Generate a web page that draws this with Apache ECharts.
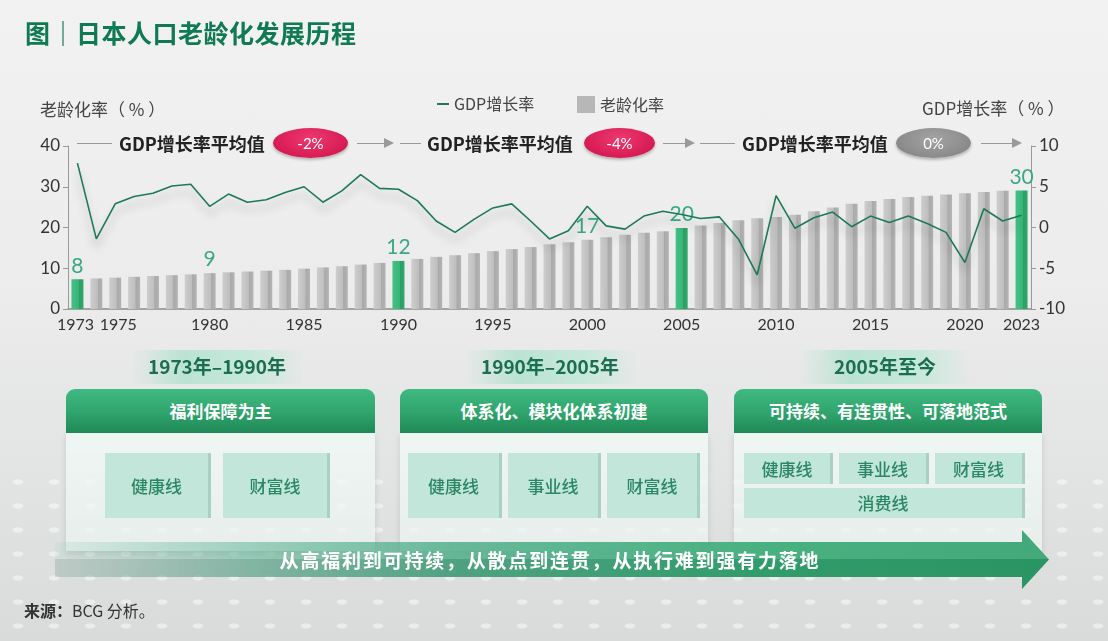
<!DOCTYPE html>
<html><head><meta charset="utf-8">
<script src="https://cdn.jsdelivr.net/npm/echarts@6/dist/echarts.min.js"></script>
<style>
html,body{margin:0;padding:0;width:1108px;height:641px;overflow:hidden;}
body{position:relative;font-family:'Noto Sans CJK SC','Noto Sans',sans-serif;background:linear-gradient(180deg,#f2f2f2 0%,#ececec 45%,#e2e3e3 75%,#d9dada 100%);}
#dots{position:absolute;left:0;top:470px;width:1108px;height:171px;background-image:radial-gradient(ellipse 8px 4px at center, rgba(255,255,255,0.85) 55%, rgba(255,255,255,0) 75%);background-size:36px 24px;opacity:0.55;}
#chart{position:absolute;left:0;top:0;width:1108px;height:641px;}
.abs{position:absolute;white-space:nowrap;}
#title{left:25px;top:16px;font-size:25px;font-weight:700;color:#0f7a53;line-height:32px;letter-spacing:0.5px;}
.axname{font-size:17px;color:#444;line-height:22px;}
.hline{position:absolute;height:1px;background:#9a9a9a;top:143px;}
.arr{position:absolute;height:1px;background:#9a9a9a;top:143px;}
.arr:after{content:'';position:absolute;right:-2px;top:-5px;border-left:10px solid #9a9a9a;border-top:5.5px solid transparent;border-bottom:5.5px solid transparent;}
.anntext{position:absolute;top:128px;line-height:30px;font-size:18px;font-weight:700;color:#222;}
.pill{position:absolute;top:128px;height:30px;border-radius:50%;color:#fff;font-size:15px;line-height:30px;text-align:center;font-family:Lato,'Noto Sans',sans-serif;box-shadow:0 2px 3px rgba(0,0,0,0.25);}
.red{background:radial-gradient(ellipse at 50% 35%,#ec3a6f 0%,#db1f58 60%,#c4164b 100%);}
.gray{background:radial-gradient(ellipse at 50% 35%,#a3a3a3 0%,#8e8e8e 60%,#7c7c7c 100%);}
.band{position:absolute;top:350px;height:34px;background:linear-gradient(90deg,rgba(175,225,205,0) 0%,rgba(175,225,205,0.8) 30%,rgba(190,232,215,0.8) 70%,rgba(175,225,205,0) 100%);}
.period{position:absolute;top:350px;line-height:32px;font-size:19px;font-weight:700;color:#1b6f50;text-align:center;width:240px;}
.box{position:absolute;top:389px;}
.bhead{position:absolute;left:0;top:0;height:44px;width:100%;border-radius:9px 9px 0 0;background:linear-gradient(180deg,#3fba82 0%,#2fa46c 55%,#1f8857 100%);color:#fff;font-size:17px;font-weight:700;line-height:44px;text-align:center;}
.bbody{position:absolute;left:0;top:44px;height:118px;width:100%;background:linear-gradient(180deg,rgba(240,248,245,0.85),rgba(236,244,241,0.7));box-shadow:0 3px 6px rgba(0,0,0,0.12);}
.cell{position:absolute;background:#c3e6da;box-shadow:3px 0 0 #a9d1c3;color:#2a8766;font-size:17px;font-weight:500;text-align:center;}
#arrow{position:absolute;left:55px;top:530px;width:994px;height:59px;clip-path:polygon(0 12px,967px 12px,967px 0,994px 29.5px,967px 59px,967px 47px,0 47px);background:linear-gradient(180deg,rgba(255,255,255,0.10) 0%,rgba(255,255,255,0.10) 50%,rgba(0,0,0,0.07) 50%,rgba(0,0,0,0.07) 100%),linear-gradient(90deg,rgba(70,170,135,0.10) 0%,rgba(70,170,135,0.5) 18%,rgba(60,165,125,0.85) 40%,#35a873 70%,#2e9f6b 100%);}
#arrowtext{position:absolute;left:0;width:1100px;top:545px;line-height:30px;text-align:center;color:#fff;font-size:19px;font-weight:700;letter-spacing:1.8px;}
#source{left:24px;top:598px;font-size:16px;color:#333;line-height:24px;}
</style></head>
<body>
<div id="dots"></div>
<div id="chart"></div>
<div class="abs" id="title">图｜日本人口老龄化发展历程</div>
<div class="abs axname" style="left:40px;top:98px;">老龄化率（ % ）</div>
<div class="abs axname" style="left:922px;top:97px;">GDP增长率（ % ）</div>

<div class="hline" style="left:77px;width:35px;"></div>
<div class="anntext" style="left:119px;">GDP增长率平均值</div>
<div class="pill red" style="left:273px;width:75px;">-2%</div>
<div class="arr" style="left:357px;width:35px;"></div>
<div class="hline" style="left:400px;width:21px;"></div>
<div class="anntext" style="left:427px;">GDP增长率平均值</div>
<div class="pill red" style="left:584px;width:71px;">-4%</div>
<div class="arr" style="left:663px;width:30px;"></div>
<div class="hline" style="left:700px;width:35px;"></div>
<div class="anntext" style="left:742px;">GDP增长率平均值</div>
<div class="pill gray" style="left:896px;width:75px;">0%</div>
<div class="arr" style="left:981px;width:39px;"></div>

<div class="band" style="left:133px;width:170px;"></div>
<div class="period" style="left:97px;">1973年–1990年</div>
<div class="band" style="left:466px;width:170px;"></div>
<div class="period" style="left:430px;">1990年–2005年</div>
<div class="band" style="left:800px;width:170px;"></div>
<div class="period" style="left:765px;">2005年至今</div>

<div class="box" style="left:66px;width:309px;">
  <div class="bbody"></div>
  <div class="bhead">福利保障为主</div>
</div>
<div class="box" style="left:400px;width:308px;">
  <div class="bbody"></div>
  <div class="bhead">体系化、模块化体系初建</div>
</div>
<div class="box" style="left:734px;width:308px;">
  <div class="bbody"></div>
  <div class="bhead">可持续、有连贯性、可落地范式</div>
</div>

<div class="cell" style="left:105px;top:453px;width:103px;height:65px;line-height:65px;">健康线</div>
<div class="cell" style="left:223px;top:453px;width:104px;height:65px;line-height:65px;">财富线</div>
<div class="cell" style="left:408px;top:453px;width:91px;height:65px;line-height:65px;">健康线</div>
<div class="cell" style="left:508px;top:453px;width:90px;height:65px;line-height:65px;">事业线</div>
<div class="cell" style="left:607px;top:453px;width:90px;height:65px;line-height:65px;">财富线</div>
<div class="cell" style="left:744px;top:453px;width:86px;height:31px;line-height:31px;">健康线</div>
<div class="cell" style="left:839px;top:453px;width:87px;height:31px;line-height:31px;">事业线</div>
<div class="cell" style="left:935px;top:453px;width:87px;height:31px;line-height:31px;">财富线</div>
<div class="cell" style="left:744px;top:488px;width:278px;height:30px;line-height:30px;">消费线</div>

<div id="arrow"></div>
<div id="arrowtext">从高福利到可持续，从散点到连贯，从执行难到强有力落地</div>
<div class="abs" id="source"><b>来源：</b>BCG 分析。</div>

<script>
const years = ['1973','1974','1975','1976','1977','1978','1979','1980','1981','1982','1983','1984','1985','1986','1987','1988','1989','1990','1991','1992','1993','1994','1995','1996','1997','1998','1999','2000','2001','2002','2003','2004','2005','2006','2007','2008','2009','2010','2011','2012','2013','2014','2015','2016','2017','2018','2019','2020','2021','2022','2023'];
const agingRate = [7.3,7.5,7.7,7.9,8.1,8.3,8.5,8.8,9.0,9.2,9.4,9.6,9.9,10.2,10.5,10.9,11.3,11.8,12.3,12.8,13.2,13.7,14.2,14.7,15.2,15.9,16.4,17.0,17.6,18.2,18.7,19.1,19.9,20.5,21.1,21.8,22.3,22.6,23.1,24.0,24.9,25.8,26.5,27.0,27.5,27.8,28.1,28.4,28.7,29.0,29.1];
const gdpGrowth = [7.9,-1.4,2.9,3.8,4.2,5.1,5.3,2.6,4.1,3.1,3.4,4.3,5.0,3.1,4.5,6.5,4.8,4.7,3.3,0.8,-0.6,1.0,2.4,2.9,0.8,-1.4,-0.4,2.6,0.2,-0.2,1.4,2.0,1.6,1.1,1.3,-1.4,-5.8,3.9,-0.1,1.2,1.9,0.1,1.4,0.6,1.4,0.5,-0.6,-4.3,2.3,0.8,1.5];
const highlightYears = ['1973','1990','2005','2023'];
const labeledYears = ['1973','1980','1990','2000','2005','2023'];
const labelTexts = ['8','9','12','17','20','30'];
const xLabelYears = ['1973','1975','1980','1985','1990','1995','2000','2005','2010','2015','2020','2023'];
const leftAxis = {min:0, max:40, interval:10};
const rightAxis = {min:-10, max:10, interval:5};

const grayGrad = new echarts.graphic.LinearGradient(0,0,1,0,[
  {offset:0,color:'#cdcdcd'},{offset:0.6,color:'#bebebe'},{offset:0.64,color:'#a9a9a9'},{offset:1,color:'#b3b3b3'}]);
const greenGrad = new echarts.graphic.LinearGradient(0,0,1,0,[
  {offset:0,color:'#44c285'},{offset:0.6,color:'#38b477'},{offset:0.64,color:'#2b9e64'},{offset:1,color:'#31a86c'}]);

const barData = years.map((y,i)=>{
  const item = {value: agingRate[i]};
  if (highlightYears.includes(y)) item.itemStyle = {color: greenGrad};
  return item;
});

const numFont = "Lato, 'Noto Sans', sans-serif";
const chart = echarts.init(document.getElementById('chart'), null, {renderer:'canvas'});
chart.setOption({
  animation:false,
  backgroundColor:'transparent',
  grid:{left:68, right:77, top:146, bottom:332, containLabel:false},
  legend:[
    {data:[{name:'GDP增长率', icon:'rect'}], left:432, top:91, itemWidth:12, itemHeight:2, itemGap:10,
     textStyle:{fontSize:16, color:'#444', fontFamily:"'Noto Sans CJK SC', sans-serif"}},
    {data:[{name:'老龄化率', icon:'rect', itemStyle:{color:'#b7b7b7'}}], left:572, top:91, itemWidth:18, itemHeight:17,
     textStyle:{fontSize:16, color:'#444', fontFamily:"'Noto Sans CJK SC', sans-serif"}}
  ],
  xAxis:{
    type:'category', data:years, boundaryGap:true,
    axisLine:{lineStyle:{color:'#8c8c8c', width:1.5}},
    axisTick:{show:false},
    axisLabel:{interval:0, margin:8, fontSize:16, color:'#333', fontFamily:numFont,
      rich:{l:{fontSize:16, color:'#333', fontFamily:numFont, padding:[0,4,0,0]},
            r:{fontSize:16, color:'#333', fontFamily:numFont, padding:[0,0,0,6]}},
      formatter:(v)=> {
        if (!xLabelYears.includes(v)) return '';
        if (v === xLabelYears[0]) return '{l|' + v + '}';
        if (v === xLabelYears[1]) return '{r|' + v + '}';
        return v;
      }}
  },
  yAxis:[
    {type:'value', min:leftAxis.min, max:leftAxis.max, interval:leftAxis.interval,
     axisLine:{show:true, lineStyle:{color:'#999'}}, axisTick:{show:true, length:5, lineStyle:{color:'#999'}},
     splitLine:{show:false}, axisLabel:{fontSize:17, color:'#333', margin:8, fontFamily:numFont}},
    {type:'value', min:rightAxis.min, max:rightAxis.max, interval:rightAxis.interval, position:'right',
     axisLine:{show:true, lineStyle:{color:'#999'}}, axisTick:{show:true, length:5, lineStyle:{color:'#999'}},
     splitLine:{show:false}, axisLabel:{fontSize:17, color:'#333', margin:8, fontFamily:numFont}}
  ],
  series:[
    {name:'老龄化率', type:'bar', yAxisIndex:0, barWidth:12, data:barData,
     itemStyle:{color:grayGrad},
     label:{show:true, position:'top', distance:3, fontSize:21, color:'#3aa887', fontFamily:numFont,
       formatter:(p)=>{const k=labeledYears.indexOf(p.name); return k>=0?labelTexts[k]:'';}},
     z:2},
    {name:'GDP增长率', type:'line', yAxisIndex:1, data:gdpGrowth, symbol:'none', color:'#1d7a54',
     lineStyle:{color:'#1d7a54', width:1.6, shadowColor:'rgba(0,0,0,0.28)', shadowBlur:10, shadowOffsetY:8},
     z:3}
  ]
});
</script>
</body></html>
